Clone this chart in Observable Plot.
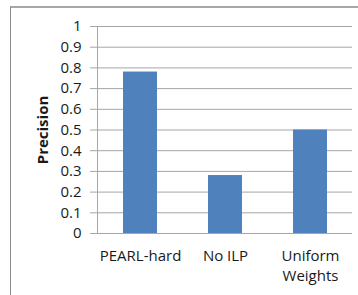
<!DOCTYPE html>
<html>
<head>
<meta charset="utf-8">
<script src="https://cdn.jsdelivr.net/npm/d3@7"></script>
<script src="https://cdn.jsdelivr.net/npm/@observablehq/plot@0.6"></script>
<style>
  html, body { margin: 0; padding: 0; background: #fff; }
  #wrap { position: relative; width: 358px; height: 295px; overflow: hidden; }
  #border { position: absolute; left: 10px; top: 6px; width: 400px; height: 400px;
            border-left: 1px solid #8c8c8c; border-top: 2px solid #a6a6a6; box-sizing: border-box; }
  #chart { position: absolute; left: 0; top: 0; }
</style>
</head>
<body>
<div id="wrap"><div id="border"></div><div id="chart"></div></div>
<script>
const categories = ["PEARL-hard", "No ILP", "Uniform Weights"];
const precision = [0.78, 0.28, 0.50];
const yTicks = [0, 0.1, 0.2, 0.3, 0.4, 0.5, 0.6, 0.7, 0.8, 0.9, 1];
const xTickLabels = ["PEARL-hard", "No ILP", "Uniform\nWeights"];

const data = categories.map((c, i) => ({category: c, value: precision[i]}));

const chart = Plot.plot({
  width: 358,
  height: 295,
  marginLeft: 97,
  marginRight: 6,
  marginTop: 26,
  marginBottom: 62,
  style: {fontFamily: "'Open Sans', sans-serif", fontSize: "15px", color: "#1a1a1a", background: "transparent"},
  x: {domain: categories, paddingInner: 0.6, paddingOuter: 0.3},
  y: {domain: [0, 1]},
  marks: [
    Plot.gridY(yTicks, {stroke: "#a6a6a6", strokeOpacity: 1, strokeWidth: 1}),
    Plot.axisY(yTicks, {
      tickSize: 7, tickPadding: 9, stroke: "#a6a6a6",
      tickFormat: d => String(+d.toFixed(1)),
      label: "Precision", labelAnchor: "center", labelArrow: "none", labelOffset: 60,
      fontSize: 15
    }),
    Plot.frame({anchor: "left", stroke: "#a6a6a6"}),
    Plot.barY(data, {x: "category", y: "value", fill: "#4f81bd"}),
    Plot.axisX({
      tickSize: 0, tickPadding: 13,
      tickFormat: d => xTickLabels[categories.indexOf(d)],
      label: null, fontSize: 15, lineHeight: 1.35
    })
  ]
});
chart.querySelectorAll("[aria-label='y-axis label'] text, g[aria-label='y-axis label'] text").forEach(t => {
  t.setAttribute("font-weight", "bold");
});
document.getElementById("chart").appendChild(chart);
</script>
</body>
</html>
